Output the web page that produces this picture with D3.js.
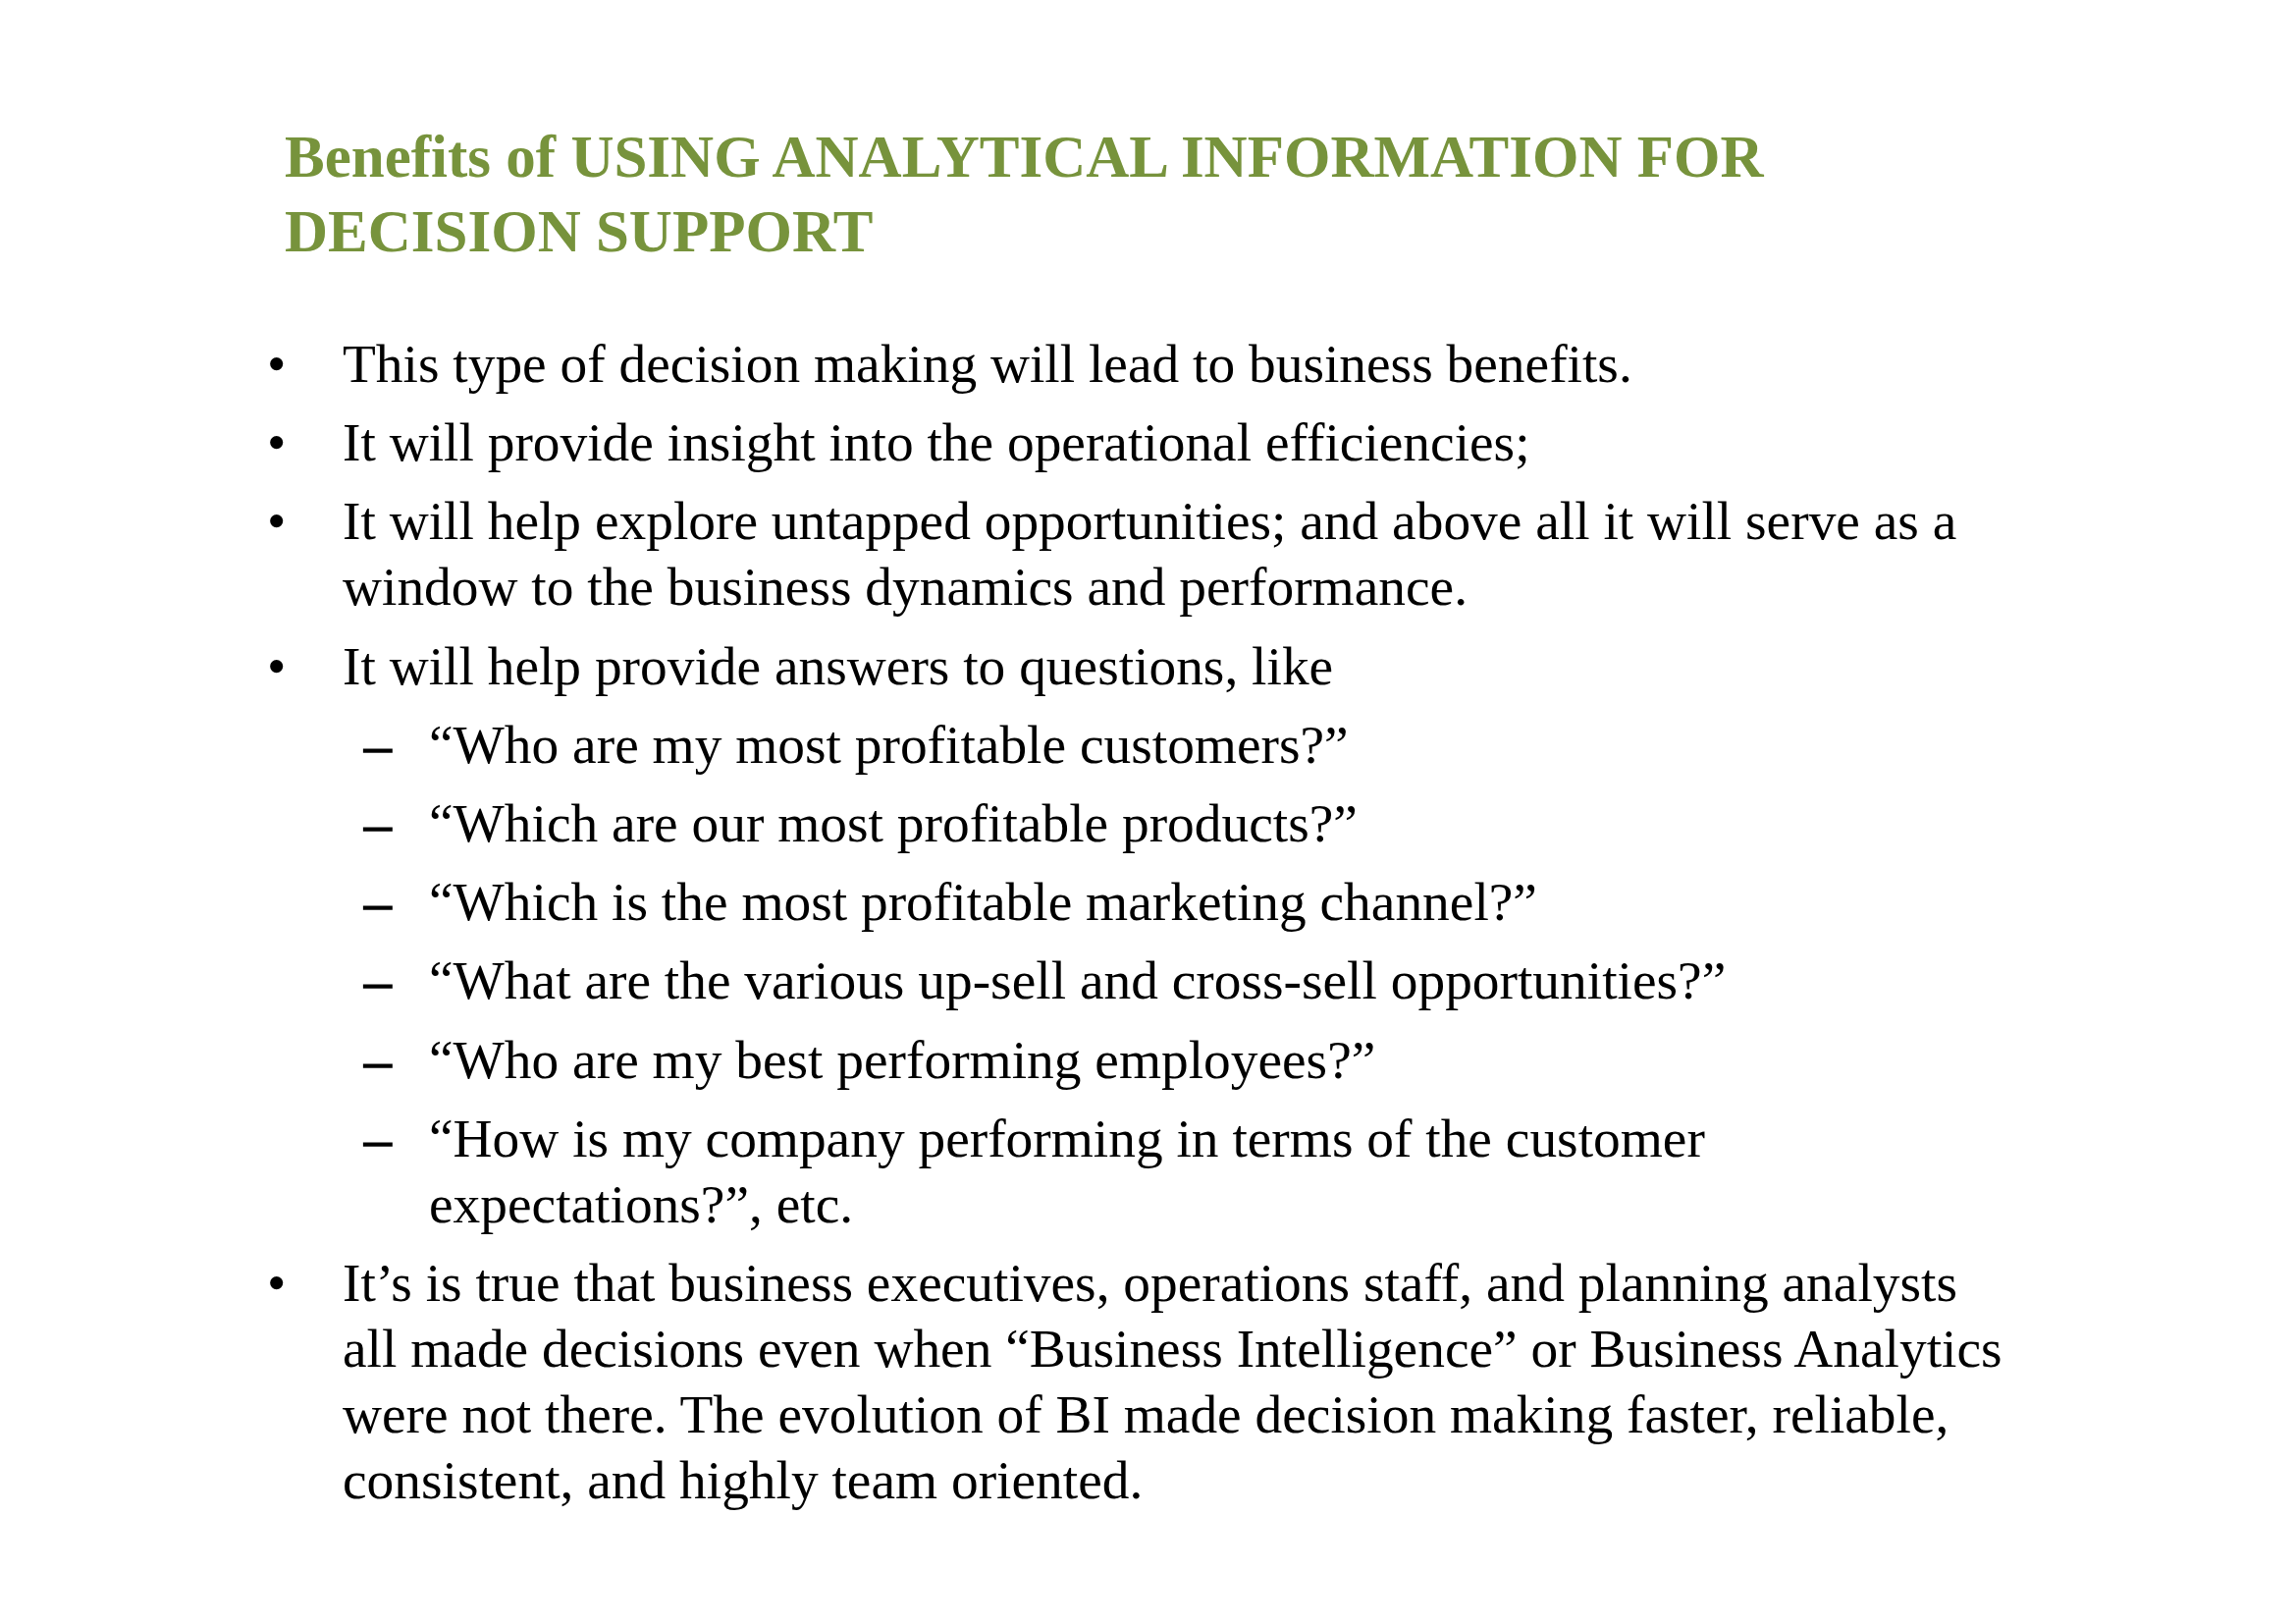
<!DOCTYPE html>
<html>
<head>
<meta charset="utf-8">
<script src="https://cdn.jsdelivr.net/npm/d3@7"></script>
<style>
  html, body { margin: 0; padding: 0; background: #ffffff; }
  svg { display: block; }
</style>
</head>
<body>
<svg></svg>
<script>
// Slide text, one entry per visual line
let titleLines = [
    'Benefits of USING ANALYTICAL INFORMATION FOR',
    'DECISION SUPPORT'
];

// level 1 = bullet, level 2 = dash; each item may wrap to several lines
let itemLevels = [1, 1, 1, 1, 2, 2, 2, 2, 2, 2, 1];
let itemLines = [
    ['This type of decision making will lead to business benefits.'],
    ['It will provide insight into the operational efficiencies;'],
    ['It will help explore untapped opportunities; and above all it will serve as a',
     'window to the business dynamics and performance.'],
    ['It will help provide answers to questions, like'],
    ['\u201cWho are my most profitable customers?\u201d'],
    ['\u201cWhich are our most profitable products?\u201d'],
    ['\u201cWhich is the most profitable marketing channel?\u201d'],
    ['\u201cWhat are the various up-sell and cross-sell opportunities?\u201d'],
    ['\u201cWho are my best performing employees?\u201d'],
    ['\u201cHow is my company performing in terms of the customer',
     'expectations?\u201d, etc.'],
    ['It\u2019s is true that business executives, operations staff, and planning analysts',
     'all made decisions even when \u201cBusiness Intelligence\u201d or Business Analytics',
     'were not there. The evolution of BI made decision making faster, reliable,',
     'consistent, and highly team oriented.']
];

let width = 2339;
let height = 1654;

let titleX = 290;
let titleTop = 180;
let titleStep = 76;

let bodyTop = 389;
let itemStep = 80.2;
let wrapStep = 67;

let markerX = { 1: 272, 2: 371 };
let textX = { 1: 349, 2: 437 };
let markers = { 1: '\u2022', 2: '\u2013' };

let svg = d3.select('svg')
    .attr('width', width)
    .attr('height', height);

// title
svg.append('g')
    .attr('id', 'title')
    .selectAll('text')
    .data(titleLines)
    .enter()
    .append('text')
    .attr('x', titleX)
    .attr('y', (d, i) => titleTop + i * titleStep)
    .attr('font-family', '"Liberation Serif", "Times New Roman", serif')
    .attr('font-weight', 'bold')
    .attr('font-size', 61)
    .attr('fill', '#77933c')
    .text((d) => d);

// work out the baseline of each item's first line
let rows = [];
let y = bodyTop;
itemLines.forEach((lines, i) => {
    rows.push({ level: itemLevels[i], lines: lines, y: y });
    y += itemStep + (lines.length - 1) * wrapStep;
});

let body = svg.append('g')
    .attr('id', 'body')
    .attr('font-family', '"Liberation Serif", "Times New Roman", serif')
    .attr('font-size', 55.4)
    .attr('fill', '#000000');

let items = body.selectAll('g.item')
    .data(rows)
    .enter()
    .append('g')
    .attr('class', 'item');

items.append('text')
    .attr('class', 'marker')
    .attr('x', (d) => markerX[d.level])
    .attr('y', (d) => d.y)
    .attr('stroke', (d) => d.level === 2 ? '#000000' : 'none')
    .attr('stroke-width', 1.5)
    .text((d) => markers[d.level]);

items.selectAll('text.line')
    .data((d) => d.lines.map((t, j) => ({ t: t, x: textX[d.level], y: d.y + j * wrapStep })))
    .enter()
    .append('text')
    .attr('class', 'line')
    .attr('x', (d) => d.x)
    .attr('y', (d) => d.y)
    .text((d) => d.t);
</script>
</body>
</html>
